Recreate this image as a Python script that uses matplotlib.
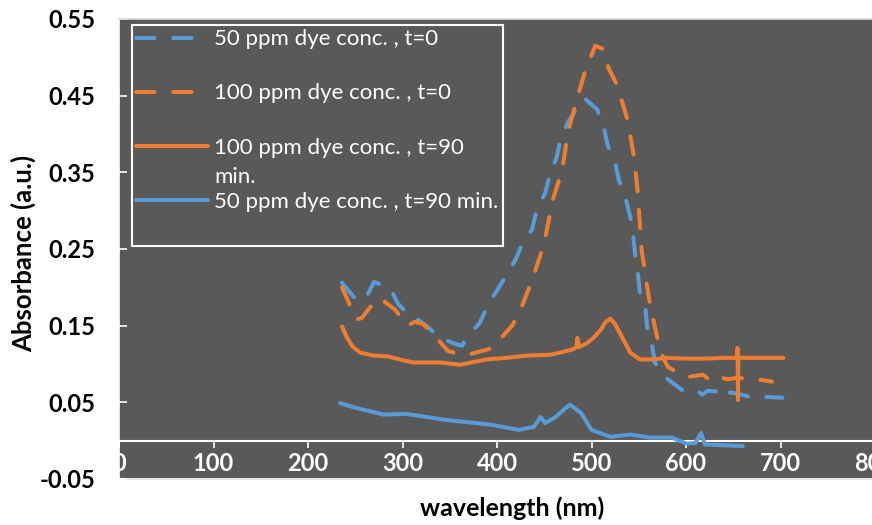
import matplotlib
matplotlib.use("Agg")
import matplotlib.pyplot as plt

# --- data ---
wl_50_t0 = [236, 248, 255, 262, 270, 287, 295, 308, 316, 324, 340, 356, 363, 369, 382,
            390, 400, 411, 420, 427, 437, 442, 451, 456, 463, 467, 475, 485, 492, 506,
            513, 517, 525, 529, 536, 541, 544, 546, 549, 551, 557, 559, 564, 567, 578,
            585, 596, 612, 617, 623, 635, 641, 647, 659, 667, 686, 702]
abs_50_t0 = [0.206, 0.188, 0.182, 0.188, 0.207, 0.199, 0.179, 0.162, 0.158, 0.151, 0.134, 0.126,
             0.124, 0.136, 0.154, 0.176, 0.196, 0.218, 0.237, 0.258, 0.275, 0.301, 0.323, 0.347,
             0.369, 0.392, 0.415, 0.435, 0.447, 0.432, 0.409, 0.386, 0.362, 0.340, 0.317, 0.292,
             0.269, 0.245, 0.220, 0.194, 0.173, 0.147, 0.125, 0.102, 0.083, 0.076, 0.066, 0.066,
             0.060, 0.065, 0.064, 0.056, 0.063, 0.060, 0.057, 0.057, 0.056]

wl_100_t0 = [236, 251, 257, 267, 276, 292, 305, 313, 322, 336, 348, 366, 393, 403, 416,
             424, 438, 450, 459, 469, 475, 485, 493, 504, 512, 518, 527, 538, 545, 549,
             553, 559, 562, 570, 576, 581, 591, 601, 618, 624, 629, 644, 654, 675, 691]
abs_100_t0 = [0.200, 0.158, 0.160, 0.176, 0.186, 0.171, 0.150, 0.155, 0.152, 0.134, 0.117, 0.111,
              0.120, 0.132, 0.150, 0.168, 0.212, 0.258, 0.314, 0.353, 0.402, 0.447, 0.481, 0.515,
              0.511, 0.486, 0.464, 0.419, 0.370, 0.323, 0.249, 0.200, 0.177, 0.132, 0.108, 0.096,
              0.089, 0.083, 0.086, 0.080, 0.085, 0.080, 0.082, 0.080, 0.077]

wl_100_t90 = [236, 241, 247, 255, 269, 284, 300, 311, 340, 361, 389, 410, 432, 456, 467,
              480, 484, 485, 487, 495, 502, 510, 515, 520, 525, 532, 541, 551, 565, 580,
              600, 620, 640, 654, 654.6, 655.0, 655.4, 680, 703]
abs_100_t90 = [0.149, 0.135, 0.123, 0.115, 0.111, 0.110, 0.105, 0.102, 0.102, 0.099, 0.106, 0.108,
               0.111, 0.112, 0.115, 0.119, 0.122, 0.134, 0.122, 0.127, 0.134, 0.145, 0.155, 0.159,
               0.152, 0.136, 0.115, 0.106, 0.106, 0.108, 0.107, 0.107, 0.108, 0.108, 0.121,
               0.053, 0.108, 0.108, 0.108]

wl_50_t90 = [234, 250, 280, 304, 346, 393, 423, 439, 446, 451, 461, 477, 489, 500, 520,
             541, 562, 585, 601, 610, 616, 620, 660]
abs_50_t90 = [0.049, 0.043, 0.034, 0.035, 0.027, 0.021, 0.014, 0.018, 0.031, 0.023, 0.030, 0.047,
              0.036, 0.014, 0.005, 0.008, 0.004, 0.004, -0.004, -0.003, 0.010, -0.005, -0.007]

series_labels = ["50 ppm dye conc. , t=0", "100 ppm dye conc. , t=0",
                 "100 ppm dye conc. , t=90\nmin.", "50 ppm dye conc. , t=90 min."]

x_ticks = [0, 100, 200, 300, 400, 500, 600, 700, 800]
y_ticks = [-0.05, 0.05, 0.15, 0.25, 0.35, 0.45, 0.55]

BLUE = "#5B9BD5"
ORANGE = "#ED7D31"
BG = "#595959"
FONT = "Lato"

fig = plt.figure(figsize=(8.72, 5.25), dpi=100)
ax = fig.add_axes([119 / 872, 1 - 479 / 525, 756 / 872, 460 / 525])
ax.set_facecolor(BG)

lw = 2.9
dash = (0, (4.6, 4.6))
ax.plot(wl_50_t0, abs_50_t0, color=BLUE, lw=lw, ls=dash, dash_capstyle="round", zorder=3)
ax.plot(wl_100_t0, abs_100_t0, color=ORANGE, lw=lw, ls=dash, dash_capstyle="round", zorder=3)
ax.plot(wl_100_t90, abs_100_t90, color=ORANGE, lw=lw, solid_capstyle="round",
        solid_joinstyle="round", zorder=3)
ax.plot(wl_50_t90, abs_50_t90, color=BLUE, lw=lw, solid_capstyle="round",
        solid_joinstyle="round", zorder=3)

ax.set_xlim(0, 800)
ax.set_ylim(-0.05, 0.55)
ax.set_xticks(x_ticks)
ax.set_yticks(y_ticks)
ax.set_yticklabels([f"{v:.2f}" for v in y_ticks])

# axes look (Excel style: grey plot area, axis crossing at 0)
ax.spines["right"].set_visible(False)
ax.spines["top"].set_color("#d9d9d9")
ax.spines["top"].set_linewidth(1.2)
ax.spines["left"].set_color("white")
ax.spines["left"].set_linewidth(1.2)
ax.spines["bottom"].set_position(("data", 0))
ax.spines["bottom"].set_color("white")
ax.spines["bottom"].set_linewidth(1.5)
ax.axhline(-0.05, color="#e6e6e6", lw=1.5, clip_on=False, zorder=1)

ax.tick_params(axis="x", direction="out", length=5, width=1.2, color="white",
               labelcolor="white", pad=3, labelsize=17)
ax.tick_params(axis="y", direction="in", length=6, width=1.2, color="white",
               labelcolor="black", pad=17, labelsize=17)
for lab in ax.get_xticklabels() + ax.get_yticklabels():
    lab.set_fontfamily(FONT)
    lab.set_fontweight("bold")

ax.set_ylabel("Absorbance (a.u.)", fontsize=18.5, fontweight="bold", family=FONT)
ax.yaxis.set_label_coords(-0.11, 0.49)
fig.text(512 / 872, 1 - 508 / 525, "wavelength (nm)", fontsize=18, fontweight="bold",
         family=FONT, ha="center", va="center")

# every legend row is two text lines high (Excel keeps equal row pitch)
leg_labels = [lab if "\n" in lab else lab + "\n " for lab in series_labels]
leg = ax.legend(ax.get_lines(), leg_labels, loc="upper left",
                bbox_to_anchor=(13 / 756, 1 - 6 / 460), borderaxespad=0,
                frameon=True, fancybox=False, facecolor=BG, edgecolor="white", framealpha=1,
                prop={"family": FONT, "size": 16}, labelcolor="white", handlelength=3.2,
                handleheight=1.0, handletextpad=0.3, labelspacing=0.2, borderpad=0.2)
leg.get_frame().set_linewidth(1.5)
for t in leg.get_texts():
    t.set_linespacing(1.6)
try:
    for entry in leg._legend_handle_box.get_children()[0].get_children():
        entry.align = "top"
except Exception:
    pass

fig.savefig("out.png", dpi=100)
